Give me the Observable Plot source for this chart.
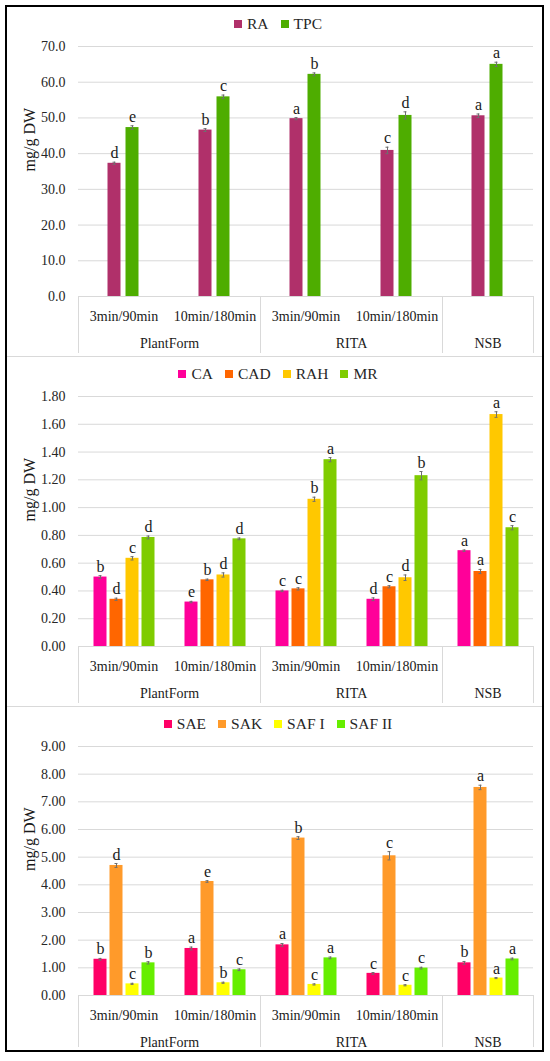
<!DOCTYPE html>
<html>
<head>
<meta charset="utf-8">
<script src="https://cdn.jsdelivr.net/npm/d3@7"></script>
<script src="https://cdn.jsdelivr.net/npm/@observablehq/plot@0.6"></script>
<style>
  body { margin: 0; background: #fff; font-family: "Liberation Serif", serif; }
  #fig { position: absolute; left: 5px; top: 5px; width: 535px; border: 2px solid #000; background: #fff; }
  .panel { position: relative; border-bottom: 1px solid #d9d9d9; }
  .panel:last-child { border-bottom: none; }
  .legend { position: absolute; left: 0; right: 0; top: 7px; height: 20px; display: flex; justify-content: center; align-items: center; padding-left: 7px; font-size: 15.5px; color: #262626; }
  .legend .item { display: flex; align-items: center; margin: 0 6px; }
  .legend .sw { width: 8px; height: 8px; margin-right: 5px; }
</style>
</head>
<body>
<div id="fig"></div>
<script>
// ---- shared categories ----
const categories = ["PF-3", "PF-10", "RITA-3", "RITA-10", "NSB"];
const conditionLabels = ["3min/90min", "10min/180min", "3min/90min", "10min/180min", ""];
const groupNames = ["PlantForm", "RITA", "NSB"];
const groupFirst = ["PF-3", "RITA-3", "NSB"];
const groupSpan = [2, 2, 1];
const yLabel = "mg/g DW";

// ---- panel 1 ----
const series1 = ["RA", "TPC"];
const colors1 = ["#B0306A", "#4EAD00"];
const RA = [37.3, 46.6, 49.8, 40.9, 50.6];
const RA_err = [0.3, 0.4, 0.3, 0.9, 0.5];
const RA_let = ["d", "b", "a", "c", "a"];
const TPC = [47.3, 55.9, 62.2, 50.7, 65.0];
const TPC_err = [0.5, 0.5, 0.4, 1.0, 0.6];
const TPC_let = ["e", "c", "b", "d", "a"];
const ticks1 = [0, 10, 20, 30, 40, 50, 60, 70];

// ---- panel 2 ----
const series2 = ["CA", "CAD", "RAH", "MR"];
const colors2 = ["#FF0099", "#FF6600", "#FFC800", "#7FCC00"];
const CA = [0.50, 0.32, 0.40, 0.34, 0.69];
const CA_err = [0.010, 0.005, 0.005, 0.010, 0.005];
const CA_let = ["b", "e", "c", "d", "a"];
const CAD = [0.34, 0.48, 0.415, 0.43, 0.54];
const CAD_err = [0.008, 0.005, 0.008, 0.008, 0.015];
const CAD_let = ["d", "b", "c", "c", "a"];
const RAH = [0.635, 0.515, 1.06, 0.495, 1.67];
const RAH_err = [0.012, 0.015, 0.015, 0.02, 0.02];
const RAH_let = ["c", "d", "b", "d", "a"];
const MR = [0.785, 0.775, 1.345, 1.23, 0.855];
const MR_err = [0.01, 0.006, 0.015, 0.03, 0.015];
const MR_let = ["d", "d", "a", "b", "c"];
const ticks2 = [0, 0.2, 0.4, 0.6, 0.8, 1.0, 1.2, 1.4, 1.6, 1.8];

// ---- panel 3 ----
const series3 = ["SAE", "SAK", "SAF I", "SAF II"];
const colors3 = ["#FF0066", "#FF9A2A", "#FFFF00", "#66EE00"];
const SAE = [1.31, 1.70, 1.83, 0.80, 1.18];
const SAE_err = [0.03, 0.05, 0.05, 0.03, 0.05];
const SAE_let = ["b", "a", "a", "c", "b"];
const SAK = [4.70, 4.12, 5.69, 5.05, 7.52];
const SAK_err = [0.07, 0.03, 0.05, 0.15, 0.08];
const SAK_let = ["d", "e", "b", "c", "a"];
const SAF1 = [0.42, 0.46, 0.40, 0.37, 0.63];
const SAF1_err = [0.02, 0.02, 0.02, 0.02, 0.02];
const SAF1_let = ["c", "b", "c", "c", "a"];
const SAF2 = [1.18, 0.93, 1.36, 0.99, 1.32];
const SAF2_err = [0.04, 0.03, 0.03, 0.03, 0.03];
const SAF2_let = ["b", "c", "a", "c", "a"];
const ticks3 = [0, 1, 2, 3, 4, 5, 6, 7, 8, 9];

function rowsOf(series, vals, errs, lets) {
  const rows = [];
  categories.forEach((cat, i) => {
    series.forEach((s, j) => {
      rows.push({cat, series: s, value: vals[j][i], err: errs[j][i], letter: lets[j][i]});
    });
  });
  return rows;
}

const panels = [
  {series: series1, colors: colors1, rows: rowsOf(series1, [RA, TPC], [RA_err, TPC_err], [RA_let, TPC_let]),
   ticks: ticks1, fmt: ".1f", pi: 0.26, po: 1.54, height: 349, mb: 60},
  {series: series2, colors: colors2, rows: rowsOf(series2, [CA, CAD, RAH, MR], [CA_err, CAD_err, RAH_err, MR_err], [CA_let, CAD_let, RAH_let, MR_let]),
   ticks: ticks2, fmt: ".2f", pi: 0.2, po: 0.85, height: 349, mb: 60},
  {series: series3, colors: colors3, rows: rowsOf(series3, [SAE, SAK, SAF1, SAF2], [SAE_err, SAK_err, SAF1_err, SAF2_err], [SAE_let, SAK_let, SAF1_let, SAF2_let]),
   ticks: ticks3, fmt: ".2f", pi: 0.2, po: 0.85, height: 343, mb: 55}
];

const fig = document.getElementById("fig");
const W = 535, ML = 69.5, MR_ = 7, MT = 39;

for (const p of panels) {
  const div = document.createElement("div");
  div.className = "panel";
  div.style.height = p.height + "px";
  const leg = document.createElement("div");
  leg.className = "legend";
  p.series.forEach((s, i) => {
    const it = document.createElement("div");
    it.className = "item";
    it.innerHTML = `<span class="sw" style="background:${p.colors[i]}"></span><span>${s}</span>`;
    leg.appendChild(it);
  });
  div.appendChild(leg);

  const plotH = p.height - MT - p.mb;
  const lineDown = p.mb - 4;
  const frames = groupFirst.map(c => Plot.frame({anchor: "left", fx: [c], stroke: "#d9d9d9", insetTop: plotH, insetBottom: -lineDown}));
  frames.push(Plot.frame({anchor: "right", fx: [categories[categories.length - 1]], stroke: "#d9d9d9", insetTop: plotH, insetBottom: -lineDown}));

  const groupsWide = groupNames.map((g, i) => ({g, cat: groupFirst[i], span: groupSpan[i]}));

  const chart = Plot.plot({
    width: W, height: p.height,
    marginLeft: ML, marginRight: MR_, marginTop: MT, marginBottom: p.mb,
    style: {fontFamily: "'Liberation Serif', serif", fontSize: "14px", color: "#262626", background: "transparent", overflow: "visible"},
    fx: {domain: categories, padding: 0, axis: null},
    x: {domain: p.series, paddingInner: p.pi, paddingOuter: p.po, axis: null},
    y: {domain: [0, p.ticks[p.ticks.length - 1]], ticks: p.ticks, tickFormat: d3.format(p.fmt), tickSize: 0, tickPadding: 13, label: null},
    color: {domain: p.series, range: p.colors},
    marks: [
      Plot.ruleY(p.ticks, {stroke: "#d9d9d9", strokeWidth: 1}),
      Plot.barY(p.rows, {fx: "cat", x: "series", y: "value", fill: "series"}),
      Plot.ruleX(p.rows, {fx: "cat", x: "series", y1: d => d.value - d.err, y2: d => d.value + d.err, stroke: "#6f6f6f", strokeWidth: 1}),
      Plot.tickY(p.rows, {fx: "cat", x: "series", y: d => d.value + d.err, stroke: "#6f6f6f", insetLeft: 5, insetRight: 5}),
      Plot.tickY(p.rows, {fx: "cat", x: "series", y: d => d.value - d.err, stroke: "#6f6f6f", insetLeft: 5, insetRight: 5}),
      Plot.text(p.rows, {fx: "cat", x: "series", y: d => d.value + d.err, text: "letter", lineAnchor: "bottom", dy: -4, fontSize: 16, fill: "#1a1a1a"}),
      Plot.text(categories, {fx: d => d, text: (d, i) => conditionLabels[i], frameAnchor: "bottom", lineAnchor: "middle", dy: 20, fill: "#1a1a1a"}),
      Plot.text(groupsWide.filter(d => d.span === 2), {fx: "cat", text: "g", frameAnchor: "bottom-right", lineAnchor: "middle", textAnchor: "middle", dy: 47, fill: "#1a1a1a"}),
      Plot.text(groupsWide.filter(d => d.span === 1), {fx: "cat", text: "g", frameAnchor: "bottom", lineAnchor: "middle", dy: 47, fill: "#1a1a1a"}),
      Plot.text([yLabel], {fx: [categories[0]], text: d => d, frameAnchor: "left", rotate: -90, dx: -48.5, fontSize: 16, fill: "#1a1a1a"}),
      ...frames
    ]
  });
  div.appendChild(chart);
  fig.appendChild(div);
}
</script>
</body>
</html>
